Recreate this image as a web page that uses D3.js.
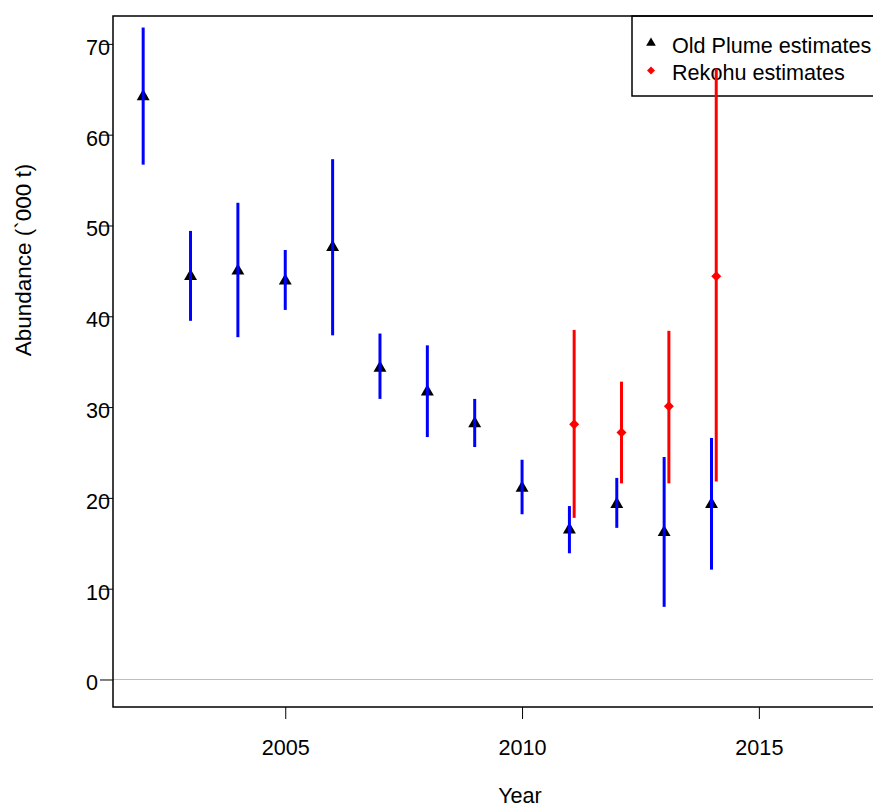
<!DOCTYPE html>
<html>
<head>
<meta charset="utf-8">
<script src="https://cdn.jsdelivr.net/npm/d3@7"></script>
<style>
  html, body { margin: 0; padding: 0; background: #fff; }
  svg { display: block; font-family: "Liberation Sans", Arial, Helvetica, sans-serif; }
</style>
</head>
<body>
<svg id="chart" width="873" height="810"></svg>
<script>
// Survey years
const oldPlumeYears = [2002, 2003, 2004, 2005, 2006, 2007, 2008, 2009, 2010, 2011, 2012, 2013, 2014];
// Old Plume abundance estimates ('000 t) with lower / upper bounds
const oldPlumeEst   = [64.2, 44.4, 45.0, 43.9, 47.6, 34.3, 31.7, 28.2, 21.1, 16.5, 19.3, 16.2, 19.3];
const oldPlumeLower = [56.7, 39.5, 37.7, 40.7, 37.9, 30.9, 26.7, 25.6, 18.2, 13.9, 16.7,  8.0, 12.1];
const oldPlumeUpper = [71.8, 49.4, 52.5, 47.3, 57.3, 38.1, 36.8, 30.9, 24.2, 19.1, 22.2, 24.5, 26.6];

// Rekohu abundance estimates ('000 t)
const rekohuYears = [2011, 2012, 2013, 2014];
const rekohuEst   = [28.1, 27.2, 30.1, 44.4];
const rekohuLower = [17.8, 21.6, 21.6, 21.8];
const rekohuUpper = [38.5, 32.8, 38.4, 67.3];

const xTicks = [2005, 2010, 2015];
const yTicks = [0, 10, 20, 30, 40, 50, 60, 70];
const legendLabels = ["Old Plume estimates", "Rekohu estimates"];

const svg = d3.select("#chart");
const plot = { left: 113, top: 16, right: 927, bottom: 707 };
const fontSize = 21.6;

const x = d3.scaleLinear().domain([2001.363, 2018.55]).range([plot.left, plot.right]);
const y = d3.scaleLinear().domain([-3.03, 73.07]).range([plot.bottom, plot.top]);
const rekohuOffset = 0.1;

// zero reference line
svg.append("line")
  .attr("x1", plot.left).attr("x2", plot.right)
  .attr("y1", y(0)).attr("y2", y(0))
  .attr("stroke", "#bebebe").attr("stroke-width", 1.2);

// x axis
const xAxis = d3.axisBottom(x).tickValues(xTicks).tickFormat(d3.format("d"))
  .tickSize(12).tickPadding(0);
const gx = svg.append("g").attr("transform", `translate(0,${plot.bottom})`).call(xAxis);
gx.select(".domain").remove();
gx.selectAll(".tick line").attr("stroke", "#000").attr("stroke-width", 1);
gx.selectAll(".tick text")
  .attr("y", 48).attr("dy", null)
  .attr("font-size", fontSize).attr("fill", "#000")
  .attr("font-family", "Liberation Sans, Arial, sans-serif");

// y axis
const yAxis = d3.axisLeft(y).tickValues(yTicks).tickSize(13).tickPadding(0);
const gy = svg.append("g").attr("transform", `translate(${plot.left},0)`).call(yAxis);
gy.select(".domain").remove();
gy.selectAll(".tick line").attr("stroke", "#000").attr("stroke-width", 1);
gy.selectAll(".tick text")
  .attr("text-anchor", "start")
  .attr("x", 86 - plot.left).attr("dy", null).attr("y", 10.5)
  .attr("font-size", fontSize).attr("fill", "#000")
  .attr("font-family", "Liberation Sans, Arial, sans-serif");

// plot frame
svg.append("rect")
  .attr("x", plot.left).attr("y", plot.top)
  .attr("width", plot.right - plot.left).attr("height", plot.bottom - plot.top)
  .attr("fill", "none").attr("stroke", "#000").attr("stroke-width", 1.5);

// axis titles
svg.append("text")
  .attr("x", (plot.left + plot.right) / 2).attr("y", 803)
  .attr("text-anchor", "middle").attr("font-size", fontSize)
  .text("Year");
svg.append("text")
  .attr("transform", "translate(31,260) rotate(-90)")
  .attr("text-anchor", "middle").attr("font-size", 22.5)
  .text("Abundance (`000 t)");

// symbol shapes
const triXc = 4.8;
function trianglePath(s) {
  const r = 1.5551 * s, xc = 1.3468 * s, yc = 0.7776 * s;
  return `M0,${-r}L${xc},${yc}L${-xc},${yc}Z`;
}
function diamondPath(h) {
  return `M0,${-h}L${h},0L0,${h}L${-h},0Z`;
}

// legend
const legend = svg.append("g");
legend.append("rect")
  .attr("x", 632).attr("y", plot.top).attr("width", 400).attr("height", 80)
  .attr("fill", "none").attr("stroke", "#000").attr("stroke-width", 1.5);
legend.append("path").attr("d", trianglePath(3.6))
  .attr("transform", "translate(651,43)").attr("fill", "#000");
legend.append("path").attr("d", diamondPath(4))
  .attr("transform", "translate(651,70.5)").attr("fill", "#ff0000");
legend.selectAll("text.lab").data(legendLabels).enter().append("text")
  .attr("class", "lab")
  .attr("x", 672).attr("y", (d, i) => 53 + i * 27)
  .attr("font-size", fontSize).attr("fill", "#000")
  .text(d => d);

// Old Plume: triangles then interval lines
const op = oldPlumeYears.map((yr, i) => ({ yr, est: oldPlumeEst[i], lo: oldPlumeLower[i], hi: oldPlumeUpper[i] }));
svg.append("g").selectAll("path").data(op).enter().append("path")
  .attr("d", trianglePath(triXc))
  .attr("transform", d => `translate(${x(d.yr)},${y(d.est)})`)
  .attr("fill", "#000");
svg.append("g").selectAll("line").data(op).enter().append("line")
  .attr("x1", d => x(d.yr)).attr("x2", d => x(d.yr))
  .attr("y1", d => y(d.lo)).attr("y2", d => y(d.hi))
  .attr("stroke", "#0000ff").attr("stroke-width", 3);

// Rekohu: interval lines and diamonds
const rk = rekohuYears.map((yr, i) => ({ yr: yr + rekohuOffset, est: rekohuEst[i], lo: rekohuLower[i], hi: rekohuUpper[i] }));
svg.append("g").selectAll("line").data(rk).enter().append("line")
  .attr("x1", d => x(d.yr)).attr("x2", d => x(d.yr))
  .attr("y1", d => y(d.lo)).attr("y2", d => y(d.hi))
  .attr("stroke", "#ff0000").attr("stroke-width", 3);
svg.append("g").selectAll("path").data(rk).enter().append("path")
  .attr("d", diamondPath(5))
  .attr("transform", d => `translate(${x(d.yr)},${y(d.est)})`)
  .attr("fill", "#ff0000");
</script>
</body>
</html>
